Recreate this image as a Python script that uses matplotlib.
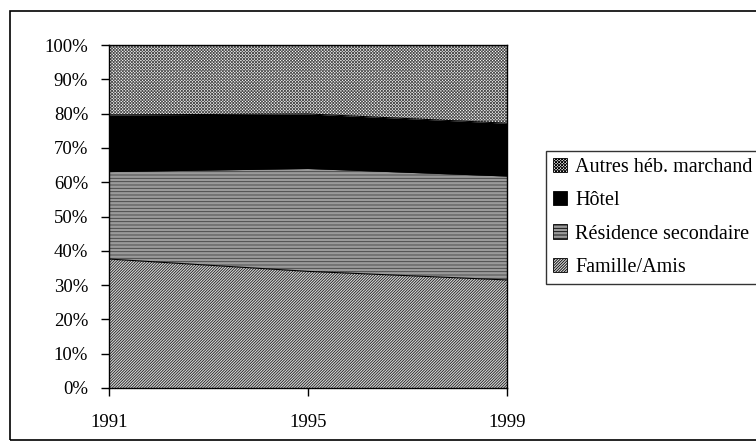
import numpy as np
import matplotlib.pyplot as plt
from matplotlib.patches import Rectangle

# data (share of nights, %)
years = [1991, 1995, 1999]
famille = [37.6, 34.0, 31.5]
residence = [25.5, 30.0, 30.3]
hotel = [16.5, 15.9, 15.4]
autres = [20.4, 20.1, 22.8]

labels = ["Famille/Amis", "Résidence secondaire", "Hôtel", "Autres héb. marchand"]
series = [famille, residence, hotel, autres]
faces = ["#d8d8d8", "#9a9a9a", "black", "white"]
hatch_cols = ["#202020", "#404040", "black", "#505050"]
hatches = ["/" * 12, "-" * 5, None, "x" * 11]

plt.rcParams['font.family'] = ['Liberation Serif', 'DejaVu Serif']
plt.rcParams['hatch.linewidth'] = 0.6

fig = plt.figure(figsize=(7.56, 4.46), dpi=100)
ax = fig.add_axes([109 / 756, 1 - 388 / 446, 398 / 756, 343 / 446])

x = np.array(years)
base = np.zeros(len(years))
polys = []
for vals, fc, hc, h, lab in zip(series, faces, hatch_cols, hatches, labels):
    top = base + np.array(vals)
    p = ax.fill_between(x, base, top, facecolor=fc, edgecolor=hc, hatch=h,
                        linewidth=0, label=lab)
    ax.plot(x, top, color="black", lw=0.8)
    polys.append(p)
    base = top

ax.set_xlim(years[0], years[-1])
ax.set_ylim(0, 100)
ax.set_xticks(years)
ax.set_yticks(np.arange(0, 101, 10))
ax.set_yticklabels([f"{v}%" for v in range(0, 101, 10)])
ax.tick_params(axis='both', direction='out', length=6, width=1, labelsize=13.5)
ax.tick_params(axis='y', pad=9)
ax.tick_params(axis='x', pad=13)
for s in ax.spines.values():
    s.set_linewidth(1)

leg = ax.legend(polys[::-1], labels[::-1], loc='upper left',
                bbox_to_anchor=(546 / 756, 1 - 151 / 446),
                bbox_transform=fig.transFigure, fontsize=14.5,
                frameon=True, fancybox=False, edgecolor='black',
                handlelength=0.7, handleheight=0.7, handletextpad=0.4,
                labelspacing=0.7, borderpad=0.35, borderaxespad=0)
leg.get_frame().set_linewidth(1)
for hnd in leg.legend_handles:
    hnd.set_edgecolor('black')
    hnd.set_linewidth(0.6)

# chart area border
fig.patches.append(Rectangle((10 / 756, 1 - 440 / 446), 1.1, 429 / 446,
                             transform=fig.transFigure, fill=False,
                             edgecolor='black', linewidth=1.2))

fig.savefig("out.png", dpi=100)
